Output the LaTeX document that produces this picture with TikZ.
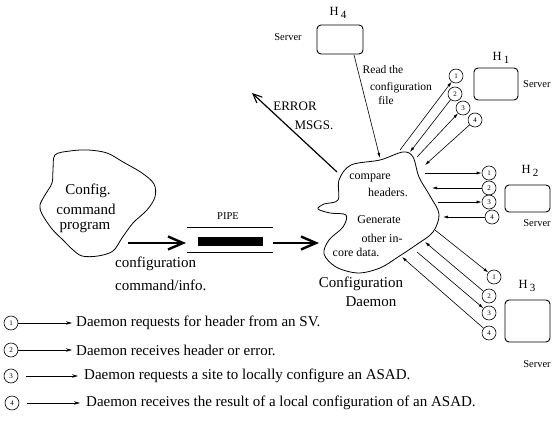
\documentclass[tikz,border=0pt]{standalone}
\usepackage{fontspec}
\setmainfont{Liberation Serif}
\usetikzlibrary{arrows.meta}

\begin{document}
\begin{tikzpicture}[x=1pt,y=-1pt,
  num/.style={circle,draw,line width=0.6pt,minimum size=14pt,inner sep=0pt,font=\fontsize{7}{7}\selectfont},
  host/.style={draw,line width=0.9pt,rounded corners=4pt,inner sep=0pt},
  txt/.style={inner sep=0pt},
  big/.style={txt,font=\fontsize{15}{15}\selectfont},
  legend/.style={txt,anchor=west,font=\fontsize{15}{15}\selectfont},
  mid/.style={txt,font=\fontsize{12}{12}\selectfont},
  small/.style={txt,font=\fontsize{10.5}{10.5}\selectfont},
  hname/.style={txt,font=\fontsize{12.5}{12.5}\selectfont},
  link/.style={line width=0.6pt,-{Latex[length=5pt,width=3pt]}},
  legarrow/.style={line width=0.8pt,-{Stealth[length=6pt,width=3.5pt]}},
  fat/.style={line width=2.6pt,-{Straight Barb[length=15pt,width=13pt,line width=2.4pt]}},
  cloud/.style={line width=0.8pt}
]
\useasboundingbox (0,0) rectangle (553,435);

% --- configuration command program (left cloud) ---
\draw[cloud] plot[smooth cycle,tension=0.55] coordinates {
  (55,155) (70,151) (88,150) (107,153) (123,162) (142,173) (154,184)
  (155,197) (147,210) (133,223) (122,238) (113,251) (98,256) (82,256)
  (72,249) (63,240) (52,229) (42,214) (40,205) (45,195) (52,183) (53,170)};
\node[big] (cfg1) at (88,191) {Config.};
\node[big] (cfg2) at (86,209) {command};
\node[big] (cfg3) at (85,227) {program};

% --- pipe ---
\coordinate (pipeIn) at (128,243);
\coordinate (pipeL) at (186,243);
\coordinate (pipeR) at (273,243);
\coordinate (daemonIn) at (319,243);
\draw[line width=0.7pt] (187,227) -- (273,227);
\draw[line width=0.7pt] (187,252) -- (273,252);
\node[fill=black,minimum width=65pt,minimum height=9pt,inner sep=0pt] (pipe) at (230.5,242) {};
\node[small] (pipelbl) at (228,216) {PIPE};
\draw[fat] (pipeIn) -- (pipeL);
\draw[fat] (pipeR) -- (daemonIn);
\node[big,anchor=west] (ci1) at (115,264) {configuration};
\node[big,anchor=west] (ci2) at (115,285) {command/info.};

% --- configuration daemon (central cloud) ---
\draw[cloud] plot[smooth cycle,tension=0.55] coordinates {
  (338,200) (339,180) (351,165) (380,160) (403,152) (413,157) (419,177)
  (430,196) (439,214) (433,232) (416,245) (398,257) (380,268) (358,273)
  (336,267) (324,254) (329,240) (343,227) (346,215) (330,213) (318,209) (324,204)};
\node[mid] (d1) at (370,178) {compare};
\node[mid] (d2) at (388,192) {headers.};
\node[mid] (d3) at (379,220) {Generate};
\node[mid] (d4) at (382,238) {other in-};
\node[mid] (d5) at (356,252) {core data.};
\node[big] (dn1) at (361,284) {Configuration};
\node[big] (dn2) at (371,302) {Daemon};

% --- error messages ---
\coordinate (errFrom) at (337,172);
\coordinate (errTo) at (252,93);
\draw[line width=1.2pt,-{Straight Barb[length=9pt,width=8pt,line width=1.1pt]}] (errFrom) -- (errTo);
\node[txt,font=\fontsize{13}{13}\selectfont] (err1) at (295,106) {ERROR};
\node[txt,font=\fontsize{13}{13}\selectfont] (err2) at (314,125) {MSGS.};

% --- host H4 ---
\node[host,minimum width=46pt,minimum height=29pt] (h4) at (340,39.5) {};
\node[hname] (h4n) at (338,13) {H\,\raisebox{-0.45ex}{\fontsize{11}{11}\selectfont 4}};
\node[small] (h4s) at (288,37) {Server};
\coordinate (h4out) at (354,55);
\coordinate (cfgRead) at (380,158);
\draw[link] (h4out) -- (cfgRead);
\node[txt,font=\fontsize{11.5}{11.5}\selectfont] (rd1) at (383,70) {Read the};
\node[txt,font=\fontsize{11.5}{11.5}\selectfont] (rd2) at (401,88) {configuration};
\node[txt,font=\fontsize{11.5}{11.5}\selectfont] (rd3) at (386,101) {file};

% --- host H1 ---
\node[host,minimum width=44pt,minimum height=32pt] (h1) at (496,84) {};
\node[hname] (h1n) at (501,58) {H\,\raisebox{-0.45ex}{\fontsize{11}{11}\selectfont 1}};
\node[small,anchor=west] (h1s) at (523,84) {Server};
\node[num] (a1) at (456,76) {1};
\node[num] (a2) at (455,94) {2};
\node[num] (a3) at (463,108) {3};
\node[num] (a4) at (475,120) {4};
\coordinate (p11) at (400,150);
\coordinate (p12) at (410,152);
\coordinate (p13) at (417,157);
\coordinate (p14) at (425,165);
\draw[link] (p11) -- (a1);
\draw[link] (a2) -- (p12);
\draw[link] (p13) -- (a3);
\draw[link] (a4) -- (p14);

% --- host H2 ---
\node[host,minimum width=45pt,minimum height=27pt] (h2) at (527.5,198.5) {};
\node[hname] (h2n) at (530,171) {H\,\raisebox{-0.45ex}{\fontsize{11}{11}\selectfont 2}};
\node[small] (h2s) at (537,223) {Server};
\node[num] (b1) at (489,173) {1};
\node[num] (b2) at (489,188) {2};
\node[num] (b3) at (489,202) {3};
\node[num] (b4) at (492,217) {4};
\coordinate (p21) at (425,173);
\coordinate (p22) at (432,188);
\coordinate (p23) at (438,202);
\coordinate (p24) at (443,217);
\draw[link] (p21) -- (b1);
\draw[link] (b2) -- (p22);
\draw[link] (p23) -- (b3);
\draw[link] (b4) -- (p24);

% --- host H3 ---
\node[host,minimum width=45pt,minimum height=42pt] (h3) at (527.5,321) {};
\node[hname] (h3n) at (527,286) {H\,\raisebox{-0.45ex}{\fontsize{11}{11}\selectfont 3}};
\node[small] (h3s) at (537,364) {Server};
\node[num] (c1) at (494,277) {1};
\node[num] (c2) at (489,296) {2};
\node[num] (c3) at (489,313) {3};
\node[num] (c4) at (489,333) {4};
\coordinate (p31) at (435,230);
\coordinate (p32) at (425,242);
\coordinate (p33) at (417,252);
\coordinate (p34) at (402,257);
\draw[link] (p31) -- (c1);
\draw[link] (c2) -- (p32);
\draw[link] (p33) -- (c3);
\draw[link] (c4) -- (p34);

% --- legend ---
\node[num] (k1) at (11,323) {1};
\node[num] (k2) at (11,350) {2};
\node[num] (k3) at (11,376) {3};
\node[num] (k4) at (12,403) {4};
\node[legend] (t1) at (76,323) {Daemon requests for header from an SV.};
\node[legend] (t2) at (76,350) {Daemon receives header or error.};
\node[legend] (t3) at (84,376) {Daemon requests a site to locally configure an ASAD.};
\node[legend] (t4) at (86,403) {Daemon receives the result of a local configuration of an ASAD.};
\draw[legarrow,shorten >=4pt] (k1) -- (t1.west);
\draw[legarrow,shorten >=4pt] (k2) -- (t2.west);
\draw[legarrow,shorten <=8pt,shorten >=6pt] (k3) -- (t3.west);
\draw[legarrow,shorten <=8pt,shorten >=6pt] (k4) -- (t4.west);
\end{tikzpicture}
\end{document}
